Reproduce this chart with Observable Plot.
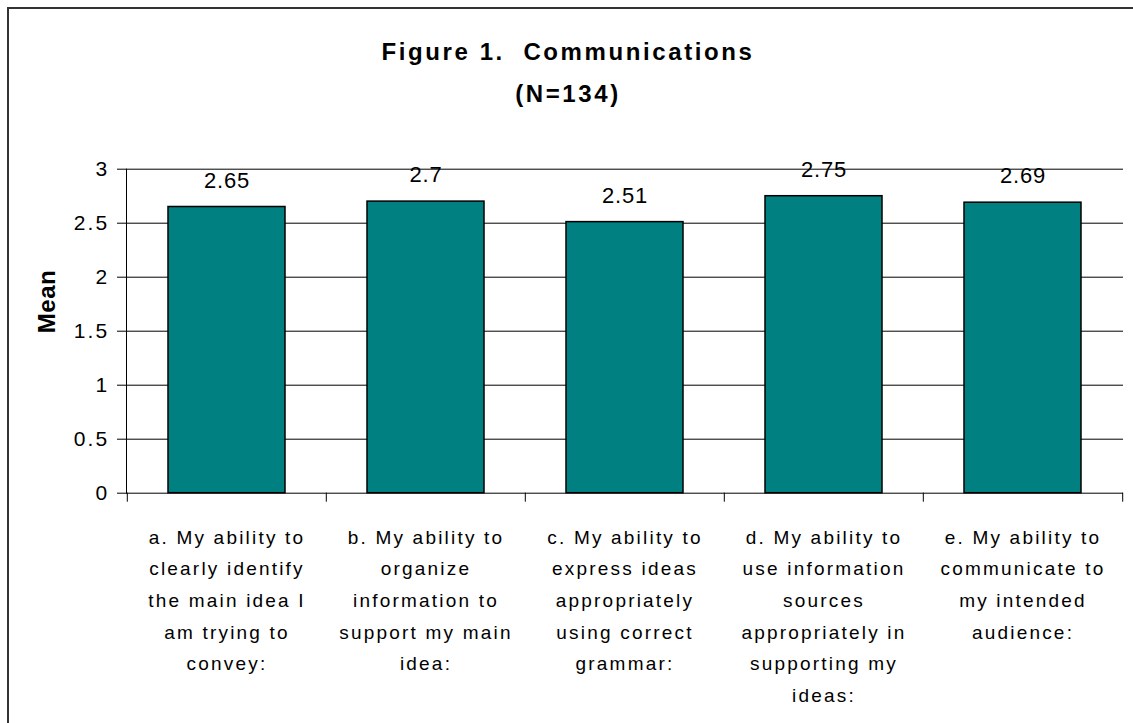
<!DOCTYPE html>
<html>
<head>
<meta charset="utf-8">
<script src="https://cdn.jsdelivr.net/npm/d3@7"></script>
<script src="https://cdn.jsdelivr.net/npm/@observablehq/plot@0.6"></script>
<style>
  html, body { margin: 0; padding: 0; background: #fff; overflow: hidden; }
  #wrap { position: relative; width: 1133px; height: 723px; font-family: "Liberation Sans", Arial, sans-serif; }
  #border { position: absolute; left: 7px; top: 7px; width: 1300px; height: 900px; border: 2px solid #333; box-sizing: border-box; z-index: 3; pointer-events: none; }
  #title { position: absolute; left: 0; top: 31px; width: 1136px; text-align: center; font-weight: bold; font-size: 24px; line-height: 41.6px; letter-spacing: 2.6px; color: #000; z-index: 2; }
  #chart { position: absolute; left: 0; top: 0; z-index: 1; }
  #chart svg text { letter-spacing: 2.2px; }
</style>
</head>
<body>
<div id="wrap">
  <div id="border"></div>
  <div id="title">Figure 1.&nbsp; Communications<br>(N=134)</div>
  <div id="chart"></div>
</div>
<script>
// Categories (tick labels, with the line breaks of the reference)
const categories = [
  "a. My ability to\nclearly identify\nthe main idea I\nam trying to\nconvey:",
  "b. My ability to\norganize\ninformation to\nsupport my main\nidea:",
  "c. My ability to\nexpress ideas\nappropriately\nusing correct\ngrammar:",
  "d. My ability to\nuse information\nsources\nappropriately in\nsupporting my\nideas:",
  "e. My ability to\ncommunicate to\nmy intended\naudience:"
];
// Series values (means)
const means = [2.65, 2.7, 2.51, 2.75, 2.69];
// Y tick values
const yTicks = [0, 0.5, 1, 1.5, 2, 2.5, 3];
const yLabel = "Mean";

const data = categories.map((c, i) => ({category: c, mean: means[i]}));

const W = 1133, H = 723;
const mLeft = 126, mRight = 10, mTop = 168.7, mBottom = H - 492.7;
const step = (W - mLeft - mRight) / categories.length;

const plot = Plot.plot({
  width: W,
  height: H,
  marginLeft: mLeft,
  marginRight: mRight,
  marginTop: mTop,
  marginBottom: mBottom,
  style: {background: "transparent", fontFamily: "'Liberation Sans', Arial, sans-serif", color: "#000"},
  x: {domain: categories, paddingInner: 0.41, paddingOuter: 0.205, label: null},
  y: {domain: [0, 3], label: null},
  marks: [
    Plot.gridY({ticks: yTicks.slice(1), stroke: "#000", strokeOpacity: 1, strokeWidth: 1}),
    Plot.barY(data, {x: "category", y: "mean", fill: "#008080", stroke: "#000", strokeWidth: 1.5}),
    Plot.ruleY([0], {stroke: "#000", strokeWidth: 1}),
    Plot.frame({anchor: "left", stroke: "#000", strokeWidth: 1}),
    Plot.axisY({ticks: yTicks, tickSize: 9, tickPadding: 8, fontSize: 21, tickFormat: d => String(d), label: null, stroke: "#000"}),
    Plot.axisX({tickSize: 9, tickFormat: () => "", dx: -step / 2, label: null, stroke: "#000"}),
    Plot.axisX({ticks: [categories[categories.length - 1]], tickSize: 9, tickFormat: () => "", dx: step / 2, label: null, stroke: "#000"}),
    Plot.text(data, {x: "category", frameAnchor: "bottom", text: "category", lineAnchor: "top", dy: 28, fontSize: 19, lineHeight: 1.668, fill: "#000"}),
    Plot.text(data, {x: "category", y: "mean", text: d => String(d.mean), dy: -26.5, lineAnchor: "middle", fontSize: 22, fill: "#000"}),
    Plot.text([yLabel], {frameAnchor: "left", text: d => d, rotate: -90, dx: -79, dy: 2, fontSize: 24, fontWeight: "bold", lineAnchor: "middle", fill: "#000"})
  ]
});
document.getElementById("chart").appendChild(plot);
// fine-tune letter spacing of the value labels and the axis title
const meanStrings = new Set(means.map(String));
d3.select(plot).selectAll("text").each(function() {
  const t = this.textContent;
  if (t === yLabel) d3.select(this).style("letter-spacing", "0.5px");
  else if (meanStrings.has(t) && !this.closest("[aria-label='y-axis tick label']")) d3.select(this).style("letter-spacing", "0.8px");
});
</script>
</body>
</html>
